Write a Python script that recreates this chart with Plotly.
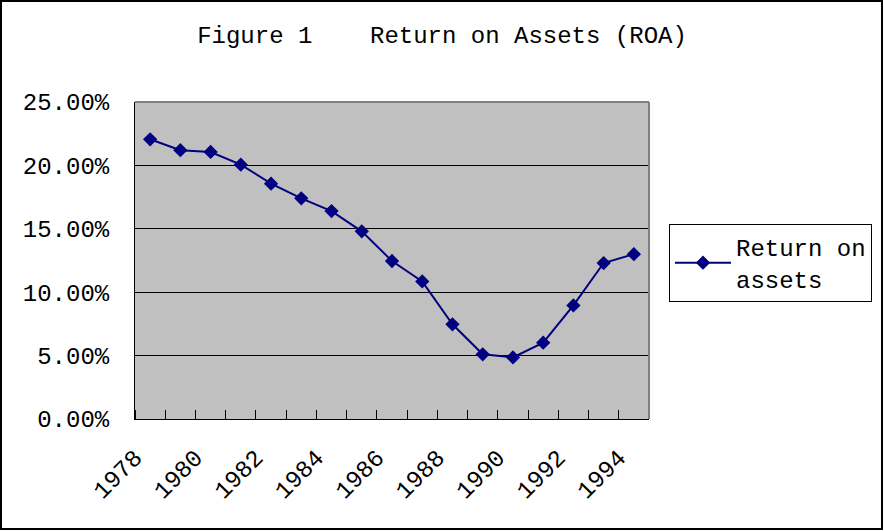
import plotly.graph_objects as go

years = list(range(1978, 1995))
roa = [0.2206, 0.2120, 0.2106, 0.2006, 0.1856, 0.1740, 0.1640, 0.1480,
       0.1246, 0.1085, 0.0747, 0.0510, 0.0486, 0.0602, 0.0896, 0.1230, 0.1300]
tick_years = list(range(1978, 1995, 2))
tick_labels = [str(y) for y in tick_years]
y_ticks = [0, 0.05, 0.10, 0.15, 0.20, 0.25]

W, H = 884, 531
L, R, T, B = 135, 649, 102, 419
pw, ph = R - L, B - T

def px(x):
    return (x - L) / pw

def py(y):
    return (B - y) / ph

FONT = "Liberation Mono"
navy = "#000080"

fig = go.Figure()
fig.add_trace(go.Scatter(
    x=years, y=roa, mode="lines+markers", name="Return on<br>assets",
    line=dict(color=navy, width=2),
    marker=dict(symbol="diamond", size=11, color=navy),
))

fig.update_layout(
    width=W, height=H, autosize=False,
    margin=dict(l=L, r=W - R, t=T, b=H - B, pad=0),
    paper_bgcolor="white", plot_bgcolor="#C0C0C0",
    title=dict(text="Figure 1\u00a0\u00a0\u00a0\u00a0Return on Assets (ROA)",
               x=0.5, xanchor="center", y=1 - 35 / H, yanchor="middle",
               font=dict(family=FONT, size=24, color="black")),
    font=dict(family=FONT, size=24, color="black"),
    showlegend=True,
    legend=dict(x=px(669), y=py(224), xanchor="left", yanchor="top",
                bordercolor="black", borderwidth=1, bgcolor="white",
                font=dict(family=FONT, size=24, color="black"),
                itemwidth=56, tracegroupgap=0),
)

# labels sit at the left boundary of each category, as in the reference
label_pos = [y - 0.5 for y in tick_years]
fig.update_xaxes(
    range=[1977.5, 1994.5], tickmode="array", tickvals=label_pos,
    ticktext=tick_labels, tickangle=-45, ticks="", showgrid=False,
    showline=True, linecolor="black", linewidth=1, zeroline=False,
    tickfont=dict(family=FONT, size=24, color="black"),
    minor=dict(ticks="inside", tick0=1977.5, dtick=1, ticklen=9,
               tickcolor="black", tickwidth=1, showgrid=False),
    ticklabelstandoff=14,
)
fig.update_yaxes(
    range=[0, 0.25], tickmode="array", tickvals=y_ticks, tickformat=".2%",
    ticks="inside", ticklen=9, tickcolor="black",
    showgrid=True, gridcolor="black", gridwidth=1,
    showline=True, linecolor="black", linewidth=1, zeroline=False,
    tickfont=dict(family=FONT, size=24, color="black"),
    ticklabelstandoff=20,
)

# plot area top/right border in gray
fig.add_shape(type="line", xref="paper", yref="paper", x0=0, x1=1, y0=1, y1=1,
              line=dict(color="#808080", width=2), layer="above")
fig.add_shape(type="line", xref="paper", yref="paper", x0=1, x1=1, y0=0, y1=1,
              line=dict(color="#808080", width=2), layer="above")
# outer chart frame
fig.add_shape(type="rect", xref="paper", yref="paper",
              x0=px(1), x1=px(882), y0=py(529), y1=py(1),
              line=dict(color="black", width=2), fillcolor="rgba(0,0,0,0)",
              layer="above")

fig.write_html("out.html", config={"displayModeBar": False},
               post_script="document.body.style.margin='0';document.body.style.overflow='hidden';")
